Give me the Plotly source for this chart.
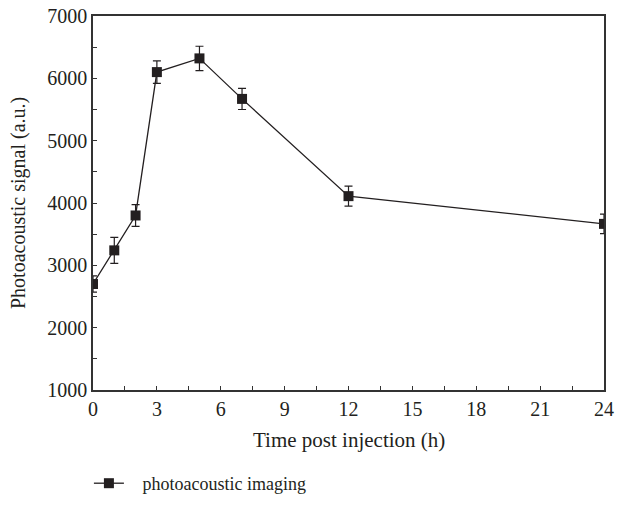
import plotly.graph_objects as go

time_h = [0, 1, 2, 3, 5, 7, 12, 24]
signal = [2700, 3240, 3800, 6100, 6320, 5670, 4110, 3665]
err = [130, 210, 175, 180, 195, 170, 160, 155]

x_ticks = [0, 3, 6, 9, 12, 15, 18, 21, 24]
y_ticks = [1000, 2000, 3000, 4000, 5000, 6000, 7000]

FONT = "Liberation Serif"
INK = "#231f20"

fig = go.Figure()
fig.add_trace(go.Scatter(
    x=time_h, y=signal, mode="lines+markers",
    name="\u00a0\u00a0\u00a0photoacoustic imaging",
    line=dict(color=INK, width=1.3),
    marker=dict(symbol="square", size=10, color=INK),
    error_y=dict(type="data", array=err, visible=True, color=INK, thickness=1.2, width=4),
))

axis_common = dict(
    showline=True, linecolor="#333333", linewidth=1.5, mirror=True,
    showgrid=False, zeroline=False, automargin=False, ticklabeloverflow="allow",
    ticks="inside", ticklen=4, tickwidth=1, tickcolor="#333333",
    tickfont=dict(family=FONT, size=20, color=INK),
)

fig.update_layout(
    width=620, height=505,
    margin=dict(l=93, r=16, t=16, b=115, autoexpand=False),
    paper_bgcolor="white", plot_bgcolor="white",
    font=dict(family=FONT, color=INK),
    showlegend=True,
    legend=dict(x=-0.008, y=-0.25, xanchor="left", yanchor="middle",
                font=dict(family=FONT, size=18, color=INK),
                bgcolor="rgba(0,0,0,0)"),
    xaxis=dict(range=[0, 24], tickvals=x_ticks,
               minor=dict(dtick=1.5, ticks="inside", ticklen=4, tickcolor="#333333"),
               **axis_common),
    yaxis=dict(range=[1000, 7000], tickvals=y_ticks,
               minor=dict(dtick=500, ticks="inside", ticklen=4, tickcolor="#333333"),
               **axis_common),
    annotations=[
        dict(text="Time post injection (h)", xref="paper", yref="paper", x=0.5, y=0,
             yshift=-50, showarrow=False, xanchor="center", yanchor="middle",
             font=dict(family=FONT, size=21, color=INK)),
        dict(text="Photoacoustic signal (a.u.)", xref="paper", yref="paper", x=0, y=0.5,
             xshift=-75, showarrow=False, xanchor="center", yanchor="middle", textangle=-90,
             font=dict(family=FONT, size=20, color=INK)),
    ],
)

fig.write_html("out.html", config={"displayModeBar": False},
               post_script="document.body.style.margin='0';")
